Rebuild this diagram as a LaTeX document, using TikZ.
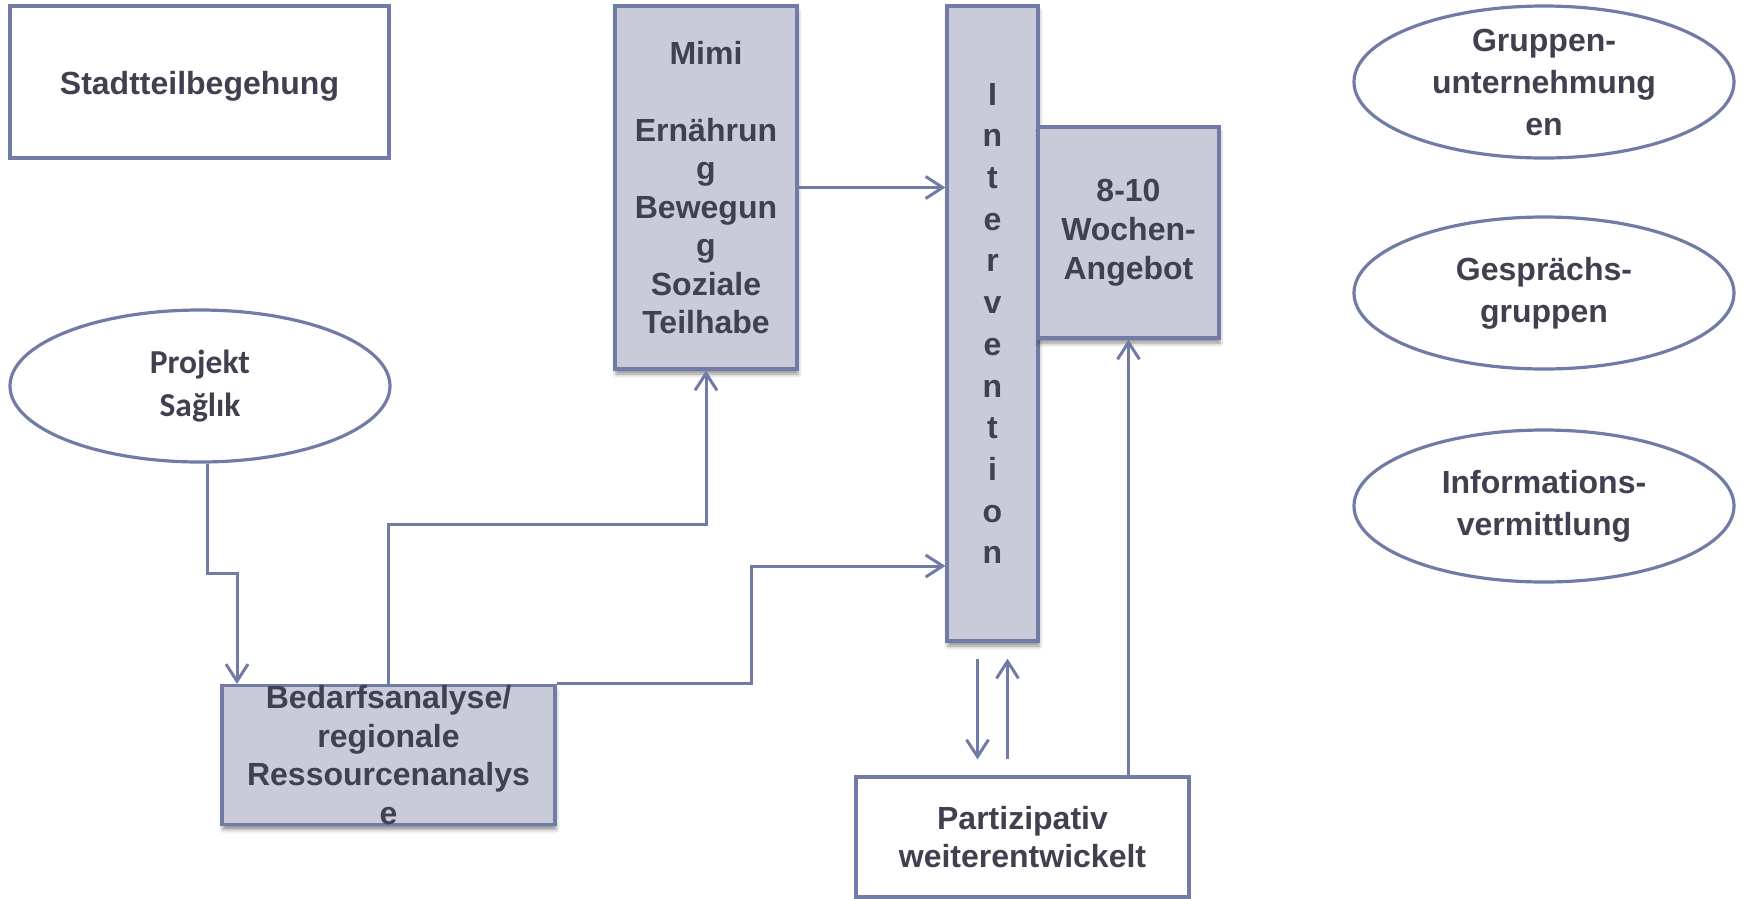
\documentclass[tikz,border=0pt]{standalone}
\usepackage{fontspec}
\setmainfont{Liberation Sans}
\newfontfamily\calfont{Carlito}
\usetikzlibrary{arrows.meta}
\usetikzlibrary{shapes.geometric}
\usetikzlibrary{shadows.blur}

\definecolor{linecol}{RGB}{112,124,166}
\definecolor{boxfill}{RGB}{201,203,216}
\definecolor{textcol}{RGB}{64,64,80}

\begin{document}
\begin{tikzpicture}[
		x=1pt, y=-1pt,
		>={Straight Barb[length=17pt,width=22pt]},
		plainnode/.style={
		% The shape:
		rectangle,
		inner sep=0pt,
		% The border:
		draw=linecol,
		line width=3.2pt,
		fill=white,
		% Font
		align=center,
		text=textcol,
		font=\fontsize{32}{38.5}\selectfont\bfseries
			},
		greynode/.style={
		plainnode,
		fill=boxfill,
		blur shadow={shadow xshift=1pt, shadow yshift=-5pt, shadow blur radius=4pt, shadow opacity=45}
			},
		ovalnode/.style={
		plainnode,
		ellipse,
		minimum width=380pt,
		minimum height=152pt,
		font=\fontsize{32}{42}\selectfont\bfseries
			},
		link/.style={
		draw=linecol,
		line width=3pt
			}
	]
	\useasboundingbox (0,0) rectangle (1743,898);

	% left column
	\node (S)[plainnode, minimum width=379pt, minimum height=152pt] at (199.5,82) {\raisebox{-4pt}[\height][\depth]{Stadtteilbegehung}};
	\node (P)[ovalnode, font=\fontsize{33.5}{43}\selectfont\calfont\bfseries] at (200,386) {Projekt\\Sağlık};
	\node (B)[greynode, minimum width=333pt, minimum height=136pt] at (388.5,755) {Bedarfsanalyse/\\regionale\\Ressourcenanalys\\e};

	% middle
	\node (M)[greynode, minimum width=182pt, minimum height=363pt] at (706,187.5) {Mimi\\[38.5pt]Ernährun\\g\\Bewegun\\g\\Soziale\\Teilhabe};
	\node (I)[greynode, minimum width=91pt, minimum height=635pt, font=\fontsize{32}{41.7}\selectfont\bfseries] at (992.5,323.5) {I\\n\\t\\e\\r\\v\\e\\n\\t\\i\\o\\n};
	\node (W)[greynode, minimum width=181pt, minimum height=211pt, font=\fontsize{32}{39}\selectfont\bfseries] at (1128.5,232.5) {8-10\\Wochen-\\Angebot};
	\node (T)[plainnode, minimum width=333pt, minimum height=120pt] at (1022.5,837) {Partizipativ\\weiterentwickelt};

	% right column
	\node (G1)[ovalnode] at (1544,82) {Gruppen-\\unternehmung\\en};
	\node (G2)[ovalnode] at (1544,293) {Gesprächs-\\gruppen};
	\node (G3)[ovalnode] at (1544,506) {Informations-\\vermittlung};

	\coordinate (K1) at (237,573);
	\coordinate (K3) at (751,566);
	\coordinate (D1) at ([xshift=-15pt]I.south);
	\coordinate (D2) at ([xshift=15pt]I.south);

	\draw [link,->] ([xshift=7pt]P.south) |- (K1) -- (K1 |- B.north);
	\draw [link,->] (B.north) -- ++(0,-159) -| (M.south);
	\draw [link,->] (B.north east) -| (K3) -- (K3 -| I.west);
	\draw [link,->] (M.east) -- (M.east -| I.west);
	\draw [link,->,shorten <=16pt,shorten >=16pt] (D1) -- (D1 |- T.north);
	\draw [link,->,shorten <=16pt,shorten >=16pt] (D2 |- T.north) -- (D2);
	\draw [link,->] (T.north -| W.south) -- (W.south);
\end{tikzpicture}
\end{document}
